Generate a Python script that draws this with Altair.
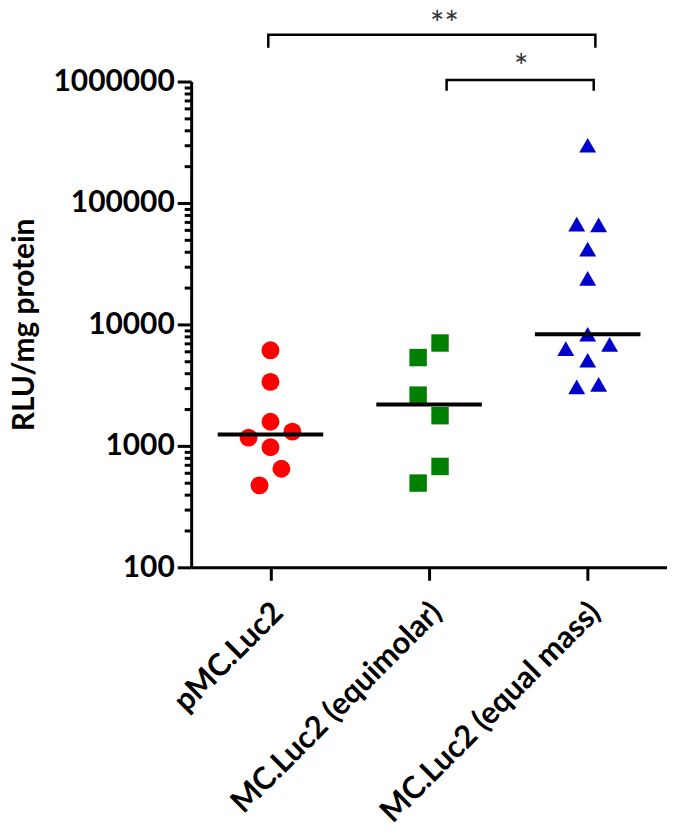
import altair as alt
import pandas as pd

# ---- data ----
groups = ["pMC.Luc2", "MC.Luc2 (equimolar)", "MC.Luc2 (equal mass)"]
colors = ["#FF0000", "#008000", "#0000CC"]
shapes = ["circle", "square", "triangle-up"]

pmc_values = [6120, 3365, 1581, 1170, 1310, 975, 648, 473]
pmc_slots = [0, 0, 0, -2, 2, 0, 1, -1]
equimolar_values = [7030, 5335, 2618, 1772, 677, 494]
equimolar_slots = [1, -1, -1, 1, 1, -1]
equalmass_values = [298700, 66900, 66000, 41700, 23980, 8300, 6320, 6850, 5070, 3063, 3206]
equalmass_slots = [0, -1, 1, 0, 0, 0, -2, 2, 0, -1, 1]

major_ticks = [100, 1000, 10000, 100000, 1000000]
minor_ticks = [m * 10 ** k for k in range(2, 6) for m in range(2, 10)]

# significance brackets
bracket_start = ["pMC.Luc2", "MC.Luc2 (equimolar)"]
bracket_end = ["MC.Luc2 (equal mass)", "MC.Luc2 (equal mass)"]
bracket_top = [2.43e6, 1.03e6]
bracket_foot = [1.9e6, 8.4e5]
bracket_start_nudge = [-0.2, 1.6]
bracket_end_nudge = [0.7, 0.55]
star_labels = ["**", "*"]
star_group = ["MC.Luc2 (equimolar)", "MC.Luc2 (equimolar)"]
star_level = [2.37e6, 1.045e6]
star_nudge = [1.4, 8.4]

# ---- tables ----
rows = []
for g, vals, slots in zip(groups, [pmc_values, equimolar_values, equalmass_values],
                          [pmc_slots, equimolar_slots, equalmass_slots]):
    for v, s in zip(vals, slots):
        rows.append({"group": g, "value": v, "slot": s})
df = pd.DataFrame(rows)

brows = []
for i in range(len(bracket_start)):
    brows += [
        {"b": i, "o": 0, "group": bracket_start[i], "value": bracket_foot[i], "slot": bracket_start_nudge[i]},
        {"b": i, "o": 1, "group": bracket_start[i], "value": bracket_top[i], "slot": bracket_start_nudge[i]},
        {"b": i, "o": 2, "group": bracket_end[i], "value": bracket_top[i], "slot": bracket_end_nudge[i]},
        {"b": i, "o": 3, "group": bracket_end[i], "value": bracket_foot[i], "slot": bracket_end_nudge[i]},
    ]
bdf = pd.DataFrame(brows)
sdf = pd.DataFrame({"group": star_group, "value": star_level, "slot": star_nudge, "label": star_labels})

xscale = alt.Scale(type="point", domain=groups, padding=0.5)
yscale = alt.Scale(type="log", domain=[100, 1000000], nice=False)
oscale = alt.Scale(domain=[-2, 2], range=[-22, 22])

x_enc = alt.X("group:N", scale=xscale, sort=groups, title=None,
              axis=alt.Axis(labelAngle=-45, tickSize=13, labelPadding=17, labelLimit=400,
                            labelFontSize=31, labelOffset=-3))

points = alt.Chart(df).mark_point(filled=True, opacity=1, strokeWidth=0).encode(
    x=x_enc,
    xOffset=alt.XOffset("slot:Q", scale=oscale),
    y=alt.Y("value:Q", scale=yscale, title="RLU/mg protein",
            axis=alt.Axis(values=major_ticks, format="d", tickSize=14, labelPadding=3,
                          titlePadding=14, orient="left")),
    color=alt.Color("group:N", scale=alt.Scale(domain=groups, range=colors), legend=None),
    shape=alt.Shape("group:N", scale=alt.Scale(domain=groups, range=shapes), legend=None),
    size=alt.Size("group:N", scale=alt.Scale(domain=groups, range=[324, 289, 340]), legend=None),
)

medians = alt.Chart(df).mark_tick(color="black", size=106, thickness=4, orient="horizontal").encode(
    x=alt.X("group:N", scale=xscale, sort=groups, title=None),
    y=alt.Y("median(value):Q", scale=yscale, axis=None),
)

brackets = alt.Chart(bdf).mark_line(color="black", strokeWidth=2.5).encode(
    x=alt.X("group:N", scale=xscale, sort=groups, title=None),
    xOffset=alt.XOffset("slot:Q", scale=oscale),
    y=alt.Y("value:Q", scale=yscale, title=None,
            axis=alt.Axis(values=minor_ticks, labels=False, domain=False, tickSize=7,
                          orient="left", title=None)),
    detail="b:N",
    order="o:Q",
)

stars = alt.Chart(sdf).mark_text(font="Lato", fontSize=34, color="#333333", baseline="alphabetic").encode(
    x=alt.X("group:N", scale=xscale, sort=groups, title=None),
    xOffset=alt.XOffset("slot:Q", scale=oscale),
    y=alt.Y("value:Q", scale=yscale, axis=None),
    text="label:N",
)

chart = alt.layer(points, medians, brackets, stars).resolve_scale(
    y="shared", x="shared", xOffset="shared"
).resolve_axis(y="independent").properties(
    width=478, height=488,
    autosize=alt.AutoSizeParams(type="none"),
    padding={"left": 184, "top": 72, "right": 0, "bottom": 262},
).configure_view(stroke=None).configure_axis(
    domainColor="black", domainWidth=3, tickColor="black", tickWidth=3,
    labelFont="Lato", labelFontWeight="bold", labelFontSize=30, labelColor="black",
    titleFont="Lato", titleFontWeight="bold", titleFontSize=30, titleColor="black",
    grid=False,
)

chart.save("out.html", embed_options={"renderer": "svg", "actions": False})
